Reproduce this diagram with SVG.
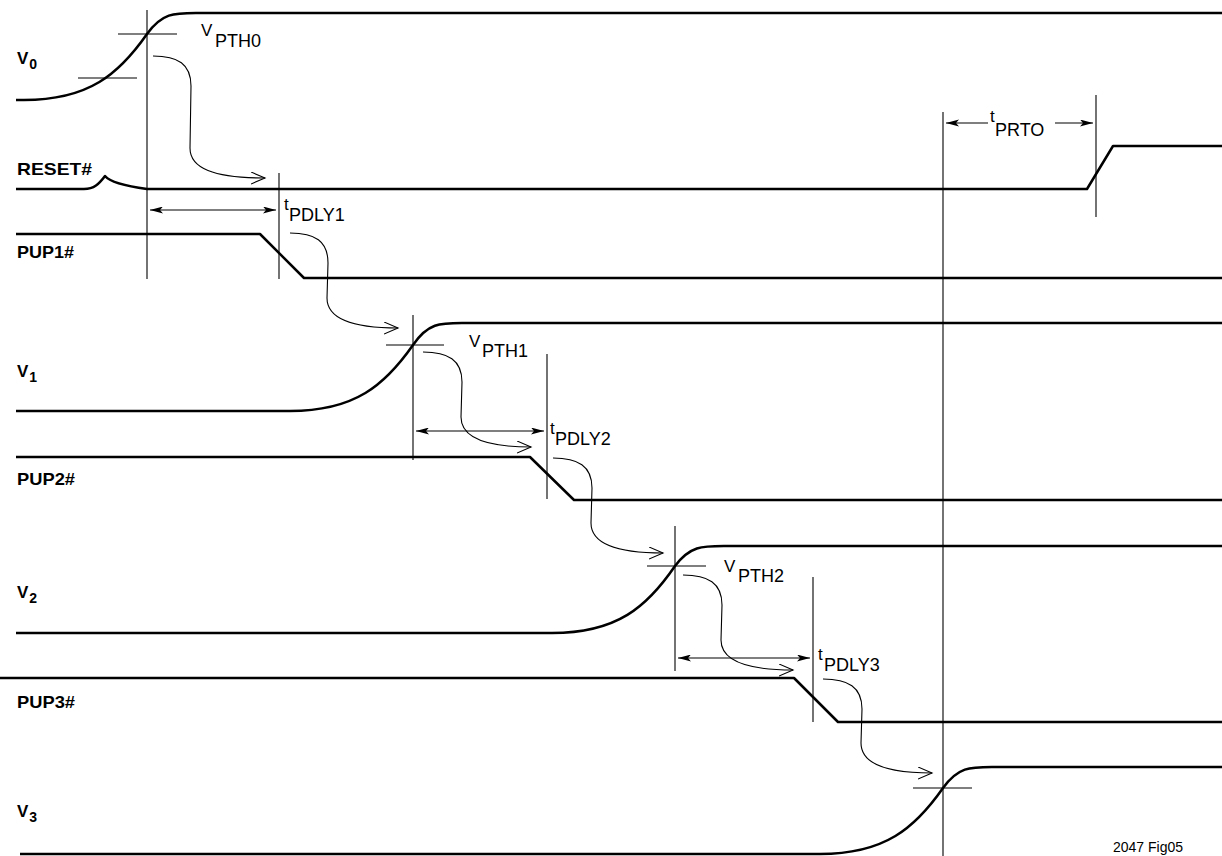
<svg xmlns="http://www.w3.org/2000/svg" width="1222" height="856" viewBox="0 0 1222 856">
<style>
.wave{fill:none;stroke:#000;stroke-width:2.5;stroke-linejoin:round}
.thin{fill:none;stroke:#000;stroke-width:1.1}
.curvy{fill:none;stroke:#000;stroke-width:1.1;marker-end:url(#open)}
.dim{fill:none;stroke:#000;stroke-width:1.1;marker-start:url(#fillS);marker-end:url(#fillE)}
.lbl{font-family:"Liberation Sans",Arial,sans-serif;font-weight:bold;font-size:17px;fill:#000}
.v{font-family:"Liberation Sans",Arial,sans-serif;font-weight:bold;font-size:17px;fill:#000}
.vs{font-size:14px}
.ann{font-family:"Liberation Sans",Arial,sans-serif;font-size:17px;fill:#000}
.sub{font-size:18px}
</style>
<defs>
<marker id="open" markerUnits="userSpaceOnUse" markerWidth="16" markerHeight="14" refX="14" refY="6" orient="auto">
<path d="M0,0 L14,6 L0,12" fill="none" stroke="#000" stroke-width="1.1"/>
</marker>
<marker id="fillE" markerUnits="userSpaceOnUse" markerWidth="14" markerHeight="8" refX="13" refY="3.5" orient="auto">
<path d="M0,0 L13,3.5 L0,7 L3,3.5 Z" fill="#000"/>
</marker>
<marker id="fillS" markerUnits="userSpaceOnUse" markerWidth="14" markerHeight="8" refX="0" refY="3.5" orient="auto">
<path d="M13,0 L0,3.5 L13,7 L10,3.5 Z" fill="#000"/>
</marker>
</defs>
<rect width="1222" height="856" fill="#fff"/>

<g id="V0">
<text class="v" x="17" y="64">V<tspan class="vs" dx="1" dy="5">0</tspan></text>
<path class="wave" d="M16,100 L24,100 C89,100 119,74 147,34 C162,13 174,13 196,13 L1222,13"/>
<line class="thin" x1="78" y1="78" x2="137" y2="78"/>
<line class="thin" x1="118" y1="34" x2="177" y2="34"/>
<text class="ann" x="201" y="36">V<tspan class="sub" x="215" y="47">PTH0</tspan></text>
</g>

<g id="RESET">
<text class="lbl" x="17" y="175" textLength="75" lengthAdjust="spacingAndGlyphs">RESET#</text>
<path class="wave" d="M16,189 L84,189 C94,189 99,184 105,176 C110,182 125,186 147,189 L1087,189 L1113,146 L1222,146"/>
</g>

<g id="PUP1">
<text class="lbl" x="17" y="258" textLength="57" lengthAdjust="spacingAndGlyphs">PUP1#</text>
<path class="wave" d="M16,234 L260,234 L304,278 L1222,278"/>
<text class="ann" x="284" y="210">t<tspan class="sub" x="289" y="221">PDLY1</tspan></text>
</g>

<g id="V1">
<text class="v" x="17" y="377">V<tspan class="vs" dx="1" dy="5">1</tspan></text>
<path class="wave" d="M16,411 L290,411 C355,411 385,385 413,345 C428,323 440,323 462,323 L1222,323"/>
<line class="thin" x1="386" y1="345" x2="444" y2="345"/>
<text class="ann" x="469" y="347">V<tspan class="sub" x="482" y="357">PTH1</tspan></text>
</g>

<g id="PUP2">
<text class="lbl" x="17" y="485" textLength="58" lengthAdjust="spacingAndGlyphs">PUP2#</text>
<path class="wave" d="M16,457 L530,457 L574,500 L1222,500"/>
<text class="ann" x="550" y="434">t<tspan class="sub" x="555" y="445">PDLY2</tspan></text>
</g>

<g id="V2">
<text class="v" x="17" y="598">V<tspan class="vs" dx="1" dy="5">2</tspan></text>
<path class="wave" d="M16,633 L552,633 C617,633 647,607 675,566 C690,546 702,546 724,546 L1222,546"/>
<line class="thin" x1="647" y1="566" x2="706" y2="566"/>
<text class="ann" x="724" y="572">V<tspan class="sub" x="738" y="582">PTH2</tspan></text>
</g>

<g id="PUP3">
<text class="lbl" x="17" y="708" textLength="58" lengthAdjust="spacingAndGlyphs">PUP3#</text>
<path class="wave" d="M0,678 L794,678 L838,722 L1222,722"/>
<text class="ann" x="818" y="660">t<tspan class="sub" x="824" y="671">PDLY3</tspan></text>
</g>

<g id="V3">
<text class="v" x="17" y="817">V<tspan class="vs" dx="1" dy="5">3</tspan></text>
<path class="wave" d="M20,854 L820,854 C885,854 915,828 943,788 C958,767 970,767 992,767 L1222,767"/>
<line class="thin" x1="913" y1="788" x2="972" y2="788"/>
</g>

<g id="tPRTO">
<text class="ann" x="990" y="122">t<tspan class="sub" x="995" y="136">PRTO</tspan></text>
</g>

<g id="caption">
<text class="ann" x="1113" y="852" style="font-size:14px">2047 Fig05</text>
</g>

<g id="connectors">
<line class="thin" x1="147" y1="10" x2="147" y2="279"/>
<line class="thin" x1="279" y1="173" x2="279" y2="279"/>
<line class="thin" x1="413" y1="315" x2="413" y2="460"/>
<line class="thin" x1="547" y1="354" x2="547" y2="499"/>
<line class="thin" x1="675" y1="526" x2="675" y2="671"/>
<line class="thin" x1="813" y1="577" x2="813" y2="722"/>
<line class="thin" x1="943" y1="112" x2="943" y2="856"/>
<line class="thin" x1="1096" y1="95" x2="1096" y2="217"/>

<line class="dim" x1="150" y1="210" x2="276" y2="210"/>
<line class="dim" x1="416" y1="431" x2="544" y2="431"/>
<line class="dim" x1="678" y1="658" x2="810" y2="658"/>
<line class="thin" x1="988" y1="123" x2="946" y2="123" marker-end="url(#fillE)"/>
<line class="thin" x1="1055" y1="123" x2="1093" y2="123" marker-end="url(#fillE)"/>

<path class="curvy" d="M153,56 C178,56 191,64 191,86 L190,148 C190,168 213,178 265,178"/>
<path class="curvy" d="M290,233 C315,233 328,241 328,263 L327,298 C327,318 350,328 398,328"/>
<path class="curvy" d="M423,352 C448,352 462,360 462,382 L461,417 C461,437 484,447 531,447"/>
<path class="curvy" d="M553,458 C578,458 592,466 592,488 L591,523 C591,543 614,553 663,553"/>
<path class="curvy" d="M683,575 C708,575 722,583 722,605 L721,640 C721,660 744,670 793,670"/>
<path class="curvy" d="M823,679 C848,679 862,687 862,709 L861,743 C861,763 884,773 932,773"/>
</g>
</svg>
